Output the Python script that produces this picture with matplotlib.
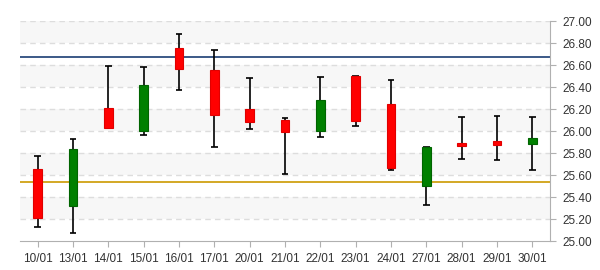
import matplotlib.pyplot as plt
import numpy as np

plt.rcParams['font.family'] = ['Liberation Sans', 'DejaVu Sans']

# dados das velas (leitura aproximada do grafico)
datas = ['10/01', '13/01', '14/01', '15/01', '16/01', '17/01', '20/01', '21/01',
         '22/01', '23/01', '24/01', '27/01', '28/01', '29/01', '30/01']
abertura = [25.65, 25.32, 26.21, 26.00, 26.75, 26.55, 26.20, 26.10,
            26.00, 26.50, 26.25, 25.50, 25.89, 25.91, 25.88]
fechamento = [25.21, 25.84, 26.03, 26.42, 26.56, 26.15, 26.08, 25.99,
              26.28, 26.09, 25.66, 25.85, 25.86, 25.87, 25.94]
maxima = [25.77, 25.93, 26.59, 26.58, 26.88, 26.74, 26.48, 26.12,
          26.49, 26.50, 26.46, 25.85, 26.13, 26.14, 26.13]
minima = [25.13, 25.07, 26.03, 25.96, 26.37, 25.85, 26.02, 25.61,
          25.95, 26.05, 25.65, 25.33, 25.75, 25.74, 25.65]

linha_sup = 26.67
linha_inf = 25.54

fig = plt.figure(figsize=(6, 2.7), dpi=100)
ax = fig.add_axes([20/600, 1-241/270, 530/600, 220/270])

# faixas alternadas de fundo
for y0 in [25.2, 25.6, 26.0, 26.4, 26.8]:
    ax.axhspan(y0, y0 + 0.2, color='#f7f7f7', zorder=0, lw=0)
for y in np.arange(25.2, 27.01, 0.2):
    ax.axhline(y, color='#dddddd', lw=1, ls=(0, (4, 3)), zorder=1)

ax.axhline(linha_sup, color='#1a3d73', lw=1.2, zorder=2)
ax.axhline(linha_inf, color='#cc9900', lw=1.2, zorder=2)

x = np.arange(len(datas))
larg = 0.25
for i in x:
    o, c, h, l = abertura[i], fechamento[i], maxima[i], minima[i]
    if c >= o:
        cor, borda = '#008000', '#006400'
    else:
        cor, borda = '#ff0000', '#e00000'
    ax.vlines(i, l, h, color='black', lw=1.2, zorder=3)
    ax.hlines([h, l], i - 0.09, i + 0.09, color='black', lw=1.2, zorder=3)
    ax.bar(i, abs(c - o), bottom=min(o, c), width=larg, color=cor,
           edgecolor=borda, lw=0.8, zorder=4)

ax.set_xlim(-0.5, len(datas) - 0.5)
ax.set_ylim(25, 27)
ax.set_xticks(x)
ax.set_xticklabels(datas)
ax.set_yticks(np.arange(25, 27.01, 0.2))
ax.set_yticklabels([f'{v:.2f}' for v in np.arange(25, 27.01, 0.2)])
ax.yaxis.tick_right()

for s in ['top', 'left']:
    ax.spines[s].set_visible(False)
for s in ['bottom', 'right']:
    ax.spines[s].set_color('#b0b0b0')
ax.tick_params(colors='#b0b0b0', labelcolor='#333333', labelsize=8.5, length=4)
ax.tick_params(axis='x', pad=5)
ax.tick_params(axis='y', pad=5)

plt.savefig('out.png', dpi=100)
